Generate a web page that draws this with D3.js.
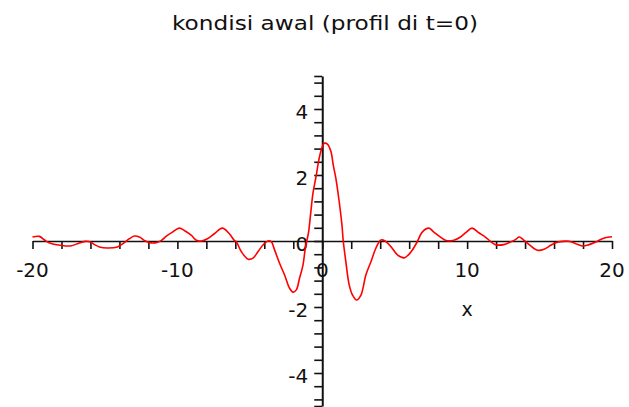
<!DOCTYPE html>
<html>
<head>
<meta charset="utf-8">
<script src="https://cdn.jsdelivr.net/npm/d3@7"></script>
<style>
  html, body { margin: 0; padding: 0; background: #fff; }
  svg { display: block; }
  text { font-family: "DejaVu Sans", sans-serif; fill: #111; }
</style>
</head>
<body>
<svg id="chart" width="629" height="407"></svg>
<script>
// Initial profile u(x, 0), sampled along x
const profileX = [
  -20.00, -19.52, -19.17, -18.83, -18.07, -17.38, -16.76, -16.34, -16.00, -15.72,
  -15.38, -14.83, -14.14, -13.66, -13.31, -12.97, -12.62, -12.28, -11.93, -11.45,
  -11.10, -10.76, -10.34, -9.86, -9.52, -9.03, -8.69, -8.34, -7.93, -7.45,
  -6.90, -6.41, -6.07, -5.93, -5.59, -5.12, -4.78, -4.43, -4.09, -3.74,
  -3.52, -3.29, -2.94, -2.60, -2.26, -2.02, -1.79, -1.57, -1.33, -1.17,
  -0.94, -0.81, -0.64, -0.41, -0.26, -0.07, 0.14, 0.37, 0.60, 0.76,
  0.94, 1.17, 1.36, 1.45, 1.63, 1.86, 2.09, 2.37, 2.67, 3.01,
  3.36, 3.70, 4.05, 4.34, 4.74, 5.19, 5.66, 5.95, 6.21, 6.55,
  6.90, 7.36, 7.70, 8.16, 8.50, 9.08, 9.54, 9.95, 10.34, 10.81,
  11.26, 11.61, 11.95, 12.53, 12.99, 13.36, 13.59, 13.93, 14.28, 14.85,
  15.31, 15.77, 16.12, 16.57, 17.03, 17.50, 17.95, 18.41, 18.88, 19.33,
  19.79, 20.00
];
const profileY = [
  0.12, 0.14, 0.03, -0.06, -0.13, -0.15, -0.06, -0.01, -0.03, -0.11,
  -0.18, -0.21, -0.18, -0.05, 0.07, 0.15, 0.12, 0.02, -0.05, -0.05,
  0.02, 0.15, 0.27, 0.39, 0.32, 0.17, 0.02, 0.00, 0.07, 0.22,
  0.39, 0.22, 0.02, -0.02, -0.32, -0.55, -0.52, -0.32, -0.12, 0.00,
  -0.02, -0.27, -0.68, -1.03, -1.43, -1.55, -1.48, -1.13, -0.73, -0.22,
  0.28, 0.79, 1.45, 2.00, 2.40, 2.76, 2.96, 2.93, 2.71, 2.30,
  1.90, 1.19, 0.48, 0.00, -0.63, -1.33, -1.64, -1.79, -1.64, -1.03,
  -0.63, -0.22, 0.03, 0.00, -0.17, -0.42, -0.51, -0.42, -0.28, -0.03,
  0.27, 0.39, 0.27, 0.12, 0.02, 0.02, 0.12, 0.27, 0.39, 0.25,
  0.12, -0.01, -0.11, -0.11, -0.03, 0.05, 0.12, 0.02, -0.11, -0.28,
  -0.25, -0.13, -0.05, -0.01, -0.01, -0.08, -0.15, -0.11, -0.03, 0.07,
  0.12, 0.13
];

// Axis ticks and labels
const xTickLabels = [-20, -10, 0, 10, 20];
const yTickLabels = [-4, -2, 0, 2, 4];
const xMinorTicks = d3.range(-20, 20.001, 2);
const yMinorTicks = d3.range(-12, 13).map(k => +(k * 0.4).toFixed(1)).concat([-5, 5]);

const titleText = "kondisi awal (profil di t=0)";
const xAxisTitle = "x";

const svg = d3.select("#chart");

const x = d3.scaleLinear().domain([-20, 20]).range([32.5, 612]);
const y = d3.scaleLinear().domain([-5, 5]).range([406, 76]);

// Title
svg.append("text")
  .attr("x", 325).attr("y", 30)
  .attr("text-anchor", "middle")
  .attr("font-size", 20)
  .attr("textLength", 306)
  .attr("lengthAdjust", "spacingAndGlyphs")
  .text(titleText);

// Horizontal axis through y = 0
const xAxis = d3.axisBottom(x)
  .tickValues(xMinorTicks)
  .tickSize(8)
  .tickSizeOuter(0)
  .tickFormat("");
const gx = svg.append("g")
  .attr("transform", `translate(0,${y(0)})`)
  .call(xAxis);
gx.select(".domain").attr("stroke", "#111").attr("stroke-width", 1.6);
gx.selectAll(".tick line").attr("stroke", "#111").attr("stroke-width", 1.6);

// Vertical axis through x = 0
const yAxis = d3.axisLeft(y)
  .tickValues(yMinorTicks)
  .tickSize(8)
  .tickSizeOuter(0)
  .tickFormat("");
const gy = svg.append("g")
  .attr("transform", `translate(${x(0)},0)`)
  .call(yAxis);
gy.select(".domain").attr("stroke", "#111").attr("stroke-width", 2);
gy.selectAll(".tick line").attr("stroke", "#111").attr("stroke-width", 1.6);

// Tick labels
svg.append("g").selectAll("text")
  .data(xTickLabels)
  .join("text")
  .attr("x", d => x(d))
  .attr("y", y(0) + 36)
  .attr("text-anchor", "middle")
  .attr("font-size", 20)
  .text(d => d < 0 ? "-" + Math.abs(d) : String(d));

svg.append("g").selectAll("text")
  .data(yTickLabels)
  .join("text")
  .attr("x", x(0) - 14)
  .attr("y", d => y(d) + 10)
  .attr("text-anchor", "end")
  .attr("font-size", 20)
  .text(d => d < 0 ? "-" + Math.abs(d) : String(d));

// Axis title
svg.append("text")
  .attr("x", x(10))
  .attr("y", y(0) + 75)
  .attr("text-anchor", "middle")
  .attr("font-size", 19)
  .text(xAxisTitle);

// Profile curve
const points = profileX.map((v, i) => [v, profileY[i]]);
const line = d3.line()
  .x(d => x(d[0]))
  .y(d => y(d[1]))
  .curve(d3.curveCatmullRom.alpha(0.5));

svg.append("path")
  .datum(points)
  .attr("fill", "none")
  .attr("stroke", "#ff0000")
  .attr("stroke-width", 1.6)
  .attr("d", line);
</script>
</body>
</html>
